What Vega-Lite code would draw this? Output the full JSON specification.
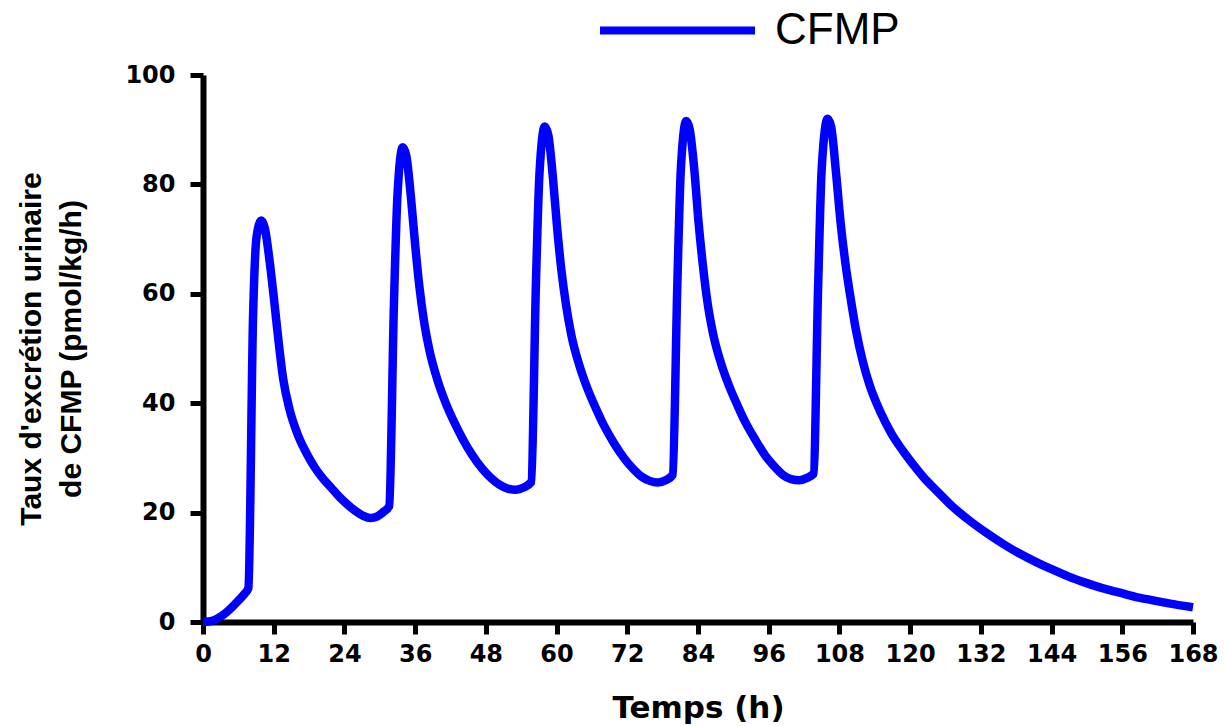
{
  "$schema": "https://vega.github.io/schema/vega-lite/v6.json",
  "autosize": {"type": "none"},
  "padding": {"left": 203, "top": 75, "right": 32, "bottom": 104},
  "width": 990,
  "height": 547,
  "background": "white",
  "config": {
    "view": {"stroke": null},
    "axis": {"grid": false, "domainColor": "black", "tickColor": "black", "labelColor": "black", "titleColor": "black"}
  },
  "data": {
    "values": [
      {"t": 0, "v": 0, "s": "CFMP"},
      {"t": 1, "v": 0.1, "s": "CFMP"},
      {"t": 2, "v": 0.4, "s": "CFMP"},
      {"t": 3, "v": 1.0, "s": "CFMP"},
      {"t": 4, "v": 1.8, "s": "CFMP"},
      {"t": 5, "v": 2.8, "s": "CFMP"},
      {"t": 6, "v": 3.9, "s": "CFMP"},
      {"t": 7, "v": 5.1, "s": "CFMP"},
      {"t": 7.7, "v": 6.2, "s": "CFMP"},
      {"t": 8.5, "v": 56, "s": "CFMP"},
      {"t": 9.1, "v": 70.5, "s": "CFMP"},
      {"t": 9.9, "v": 73.4, "s": "CFMP"},
      {"t": 10.5, "v": 72, "s": "CFMP"},
      {"t": 11.3, "v": 66, "s": "CFMP"},
      {"t": 12.0, "v": 59.5, "s": "CFMP"},
      {"t": 12.7, "v": 52.5, "s": "CFMP"},
      {"t": 13.6, "v": 44.5, "s": "CFMP"},
      {"t": 14.7, "v": 38.8, "s": "CFMP"},
      {"t": 16.1, "v": 34.2, "s": "CFMP"},
      {"t": 17.5, "v": 31, "s": "CFMP"},
      {"t": 19.0, "v": 28.2, "s": "CFMP"},
      {"t": 20.3, "v": 26.3, "s": "CFMP"},
      {"t": 21.8, "v": 24.5, "s": "CFMP"},
      {"t": 23.2, "v": 22.8, "s": "CFMP"},
      {"t": 24.6, "v": 21.4, "s": "CFMP"},
      {"t": 26.0, "v": 20.2, "s": "CFMP"},
      {"t": 27.2, "v": 19.4, "s": "CFMP"},
      {"t": 28.4, "v": 19.0, "s": "CFMP"},
      {"t": 29.6, "v": 19.3, "s": "CFMP"},
      {"t": 30.6, "v": 20.1, "s": "CFMP"},
      {"t": 31.6, "v": 21.2, "s": "CFMP"},
      {"t": 32.4, "v": 58, "s": "CFMP"},
      {"t": 33.0, "v": 78, "s": "CFMP"},
      {"t": 33.9, "v": 86.8, "s": "CFMP"},
      {"t": 34.5, "v": 85.2, "s": "CFMP"},
      {"t": 35.3, "v": 77.5, "s": "CFMP"},
      {"t": 36.0, "v": 69, "s": "CFMP"},
      {"t": 36.7, "v": 61.5, "s": "CFMP"},
      {"t": 37.5, "v": 55, "s": "CFMP"},
      {"t": 38.4, "v": 49.8, "s": "CFMP"},
      {"t": 39.8, "v": 44.2, "s": "CFMP"},
      {"t": 41.2, "v": 40, "s": "CFMP"},
      {"t": 42.6, "v": 36.6, "s": "CFMP"},
      {"t": 44.0, "v": 33.6, "s": "CFMP"},
      {"t": 45.7, "v": 30.5, "s": "CFMP"},
      {"t": 47.4, "v": 28, "s": "CFMP"},
      {"t": 48.9, "v": 26.3, "s": "CFMP"},
      {"t": 50.3, "v": 25.1, "s": "CFMP"},
      {"t": 51.7, "v": 24.4, "s": "CFMP"},
      {"t": 53.1, "v": 24.2, "s": "CFMP"},
      {"t": 54.4, "v": 24.6, "s": "CFMP"},
      {"t": 55.7, "v": 25.6, "s": "CFMP"},
      {"t": 56.5, "v": 62, "s": "CFMP"},
      {"t": 57.1, "v": 82, "s": "CFMP"},
      {"t": 58.0, "v": 90.6, "s": "CFMP"},
      {"t": 58.6, "v": 89, "s": "CFMP"},
      {"t": 59.4, "v": 81, "s": "CFMP"},
      {"t": 60.1, "v": 72, "s": "CFMP"},
      {"t": 60.8, "v": 64.5, "s": "CFMP"},
      {"t": 61.6, "v": 58, "s": "CFMP"},
      {"t": 62.5, "v": 52.5, "s": "CFMP"},
      {"t": 63.9, "v": 46.8, "s": "CFMP"},
      {"t": 65.3, "v": 42.5, "s": "CFMP"},
      {"t": 66.7, "v": 39, "s": "CFMP"},
      {"t": 68.1, "v": 35.8, "s": "CFMP"},
      {"t": 69.8, "v": 32.6, "s": "CFMP"},
      {"t": 71.5, "v": 29.9, "s": "CFMP"},
      {"t": 73.0, "v": 28.0, "s": "CFMP"},
      {"t": 74.4, "v": 26.6, "s": "CFMP"},
      {"t": 75.8, "v": 25.8, "s": "CFMP"},
      {"t": 77.2, "v": 25.5, "s": "CFMP"},
      {"t": 78.5, "v": 25.9, "s": "CFMP"},
      {"t": 79.7, "v": 26.9, "s": "CFMP"},
      {"t": 80.5, "v": 62, "s": "CFMP"},
      {"t": 81.1, "v": 83, "s": "CFMP"},
      {"t": 82.0, "v": 91.6, "s": "CFMP"},
      {"t": 82.6, "v": 90, "s": "CFMP"},
      {"t": 83.4, "v": 82.4, "s": "CFMP"},
      {"t": 84.1, "v": 73, "s": "CFMP"},
      {"t": 84.8, "v": 65.5, "s": "CFMP"},
      {"t": 85.6, "v": 58.5, "s": "CFMP"},
      {"t": 86.5, "v": 53, "s": "CFMP"},
      {"t": 87.9, "v": 47.3, "s": "CFMP"},
      {"t": 89.3, "v": 43.1, "s": "CFMP"},
      {"t": 90.7, "v": 39.6, "s": "CFMP"},
      {"t": 92.1, "v": 36.4, "s": "CFMP"},
      {"t": 93.8, "v": 33.2, "s": "CFMP"},
      {"t": 95.5, "v": 30.3, "s": "CFMP"},
      {"t": 97.0, "v": 28.4, "s": "CFMP"},
      {"t": 98.4, "v": 26.9, "s": "CFMP"},
      {"t": 99.8, "v": 26.1, "s": "CFMP"},
      {"t": 101.2, "v": 25.9, "s": "CFMP"},
      {"t": 102.4, "v": 26.3, "s": "CFMP"},
      {"t": 103.6, "v": 27.1, "s": "CFMP"},
      {"t": 104.4, "v": 62, "s": "CFMP"},
      {"t": 105.0, "v": 83, "s": "CFMP"},
      {"t": 106.0, "v": 92.0, "s": "CFMP"},
      {"t": 106.6, "v": 90.5, "s": "CFMP"},
      {"t": 107.4, "v": 82.4, "s": "CFMP"},
      {"t": 108.2, "v": 73, "s": "CFMP"},
      {"t": 109.1, "v": 64.9, "s": "CFMP"},
      {"t": 110.0, "v": 58.5, "s": "CFMP"},
      {"t": 110.8, "v": 53.4, "s": "CFMP"},
      {"t": 112.0, "v": 47.5, "s": "CFMP"},
      {"t": 113.1, "v": 43.4, "s": "CFMP"},
      {"t": 115.0, "v": 38.3, "s": "CFMP"},
      {"t": 116.8, "v": 34.5, "s": "CFMP"},
      {"t": 118.7, "v": 31.4, "s": "CFMP"},
      {"t": 120.5, "v": 28.8, "s": "CFMP"},
      {"t": 122.4, "v": 26.3, "s": "CFMP"},
      {"t": 124.4, "v": 24.1, "s": "CFMP"},
      {"t": 127.2, "v": 21.1, "s": "CFMP"},
      {"t": 130.0, "v": 18.6, "s": "CFMP"},
      {"t": 132.8, "v": 16.4, "s": "CFMP"},
      {"t": 135.6, "v": 14.4, "s": "CFMP"},
      {"t": 138.4, "v": 12.6, "s": "CFMP"},
      {"t": 141.3, "v": 11.0, "s": "CFMP"},
      {"t": 144.1, "v": 9.6, "s": "CFMP"},
      {"t": 146.9, "v": 8.3, "s": "CFMP"},
      {"t": 149.7, "v": 7.2, "s": "CFMP"},
      {"t": 152.6, "v": 6.2, "s": "CFMP"},
      {"t": 155.4, "v": 5.4, "s": "CFMP"},
      {"t": 158.2, "v": 4.6, "s": "CFMP"},
      {"t": 161.0, "v": 4.0, "s": "CFMP"},
      {"t": 163.9, "v": 3.4, "s": "CFMP"},
      {"t": 168.0, "v": 2.7, "s": "CFMP"}
    ]
  },
  "mark": {"type": "line", "interpolate": "monotone", "strokeWidth": 8.5, "strokeJoin": "round", "strokeCap": "butt", "clip": false},
  "encoding": {
    "x": {
      "field": "t", "type": "quantitative",
      "scale": {"domain": [0, 168], "nice": false, "zero": false},
      "axis": {
        "values": [0, 12, 24, 36, 48, 60, 72, 84, 96, 108, 120, 132, 144, 156, 168],
        "title": "Temps (h)",
        "labelFont": "DejaVu Sans", "labelFontWeight": "bold", "labelFontSize": 24,
        "labelFlush": false, "labelOverlap": false, "labelPadding": 8,
        "tickSize": 12, "tickWidth": 5, "domainWidth": 6,
        "titleFont": "DejaVu Sans", "titleFontWeight": "bold", "titleFontSize": 31,
        "titlePadding": 27
      }
    },
    "y": {
      "field": "v", "type": "quantitative",
      "scale": {"domain": [0, 100], "nice": false},
      "axis": {
        "values": [0, 20, 40, 60, 80, 100],
        "title": ["Taux d'excrétion urinaire", "de CFMP (pmol/kg/h)"],
        "labelFont": "DejaVu Sans", "labelFontWeight": "bold", "labelFontSize": 24,
        "labelFlush": false, "labelOverlap": false, "labelPadding": 15,
        "tickSize": 13, "tickWidth": 5, "domainWidth": 6,
        "titleFont": "Liberation Sans", "titleFontWeight": "bold", "titleFontSize": 30,
        "titleLineHeight": 40,
        "titlePadding": 38
      }
    },
    "color": {
      "field": "s", "type": "nominal",
      "scale": {"domain": ["CFMP"], "range": ["#0000ff"]},
      "legend": {
        "title": null,
        "orient": "none",
        "legendX": 393,
        "legendY": -126,
        "padding": 0,
        "symbolType": "stroke",
        "symbolSize": 24025,
        "symbolStrokeWidth": 8,
        "labelFont": "Liberation Sans",
        "labelFontSize": 44,
        "labelColor": "black",
        "labelOffset": 16,
        "labelLimit": 400,
        "encode": {"symbols": {"update": {"stroke": {"value": "#0a64ff"}, "strokeWidth": {"value": 8}}}}
      }
    }
  }
}
